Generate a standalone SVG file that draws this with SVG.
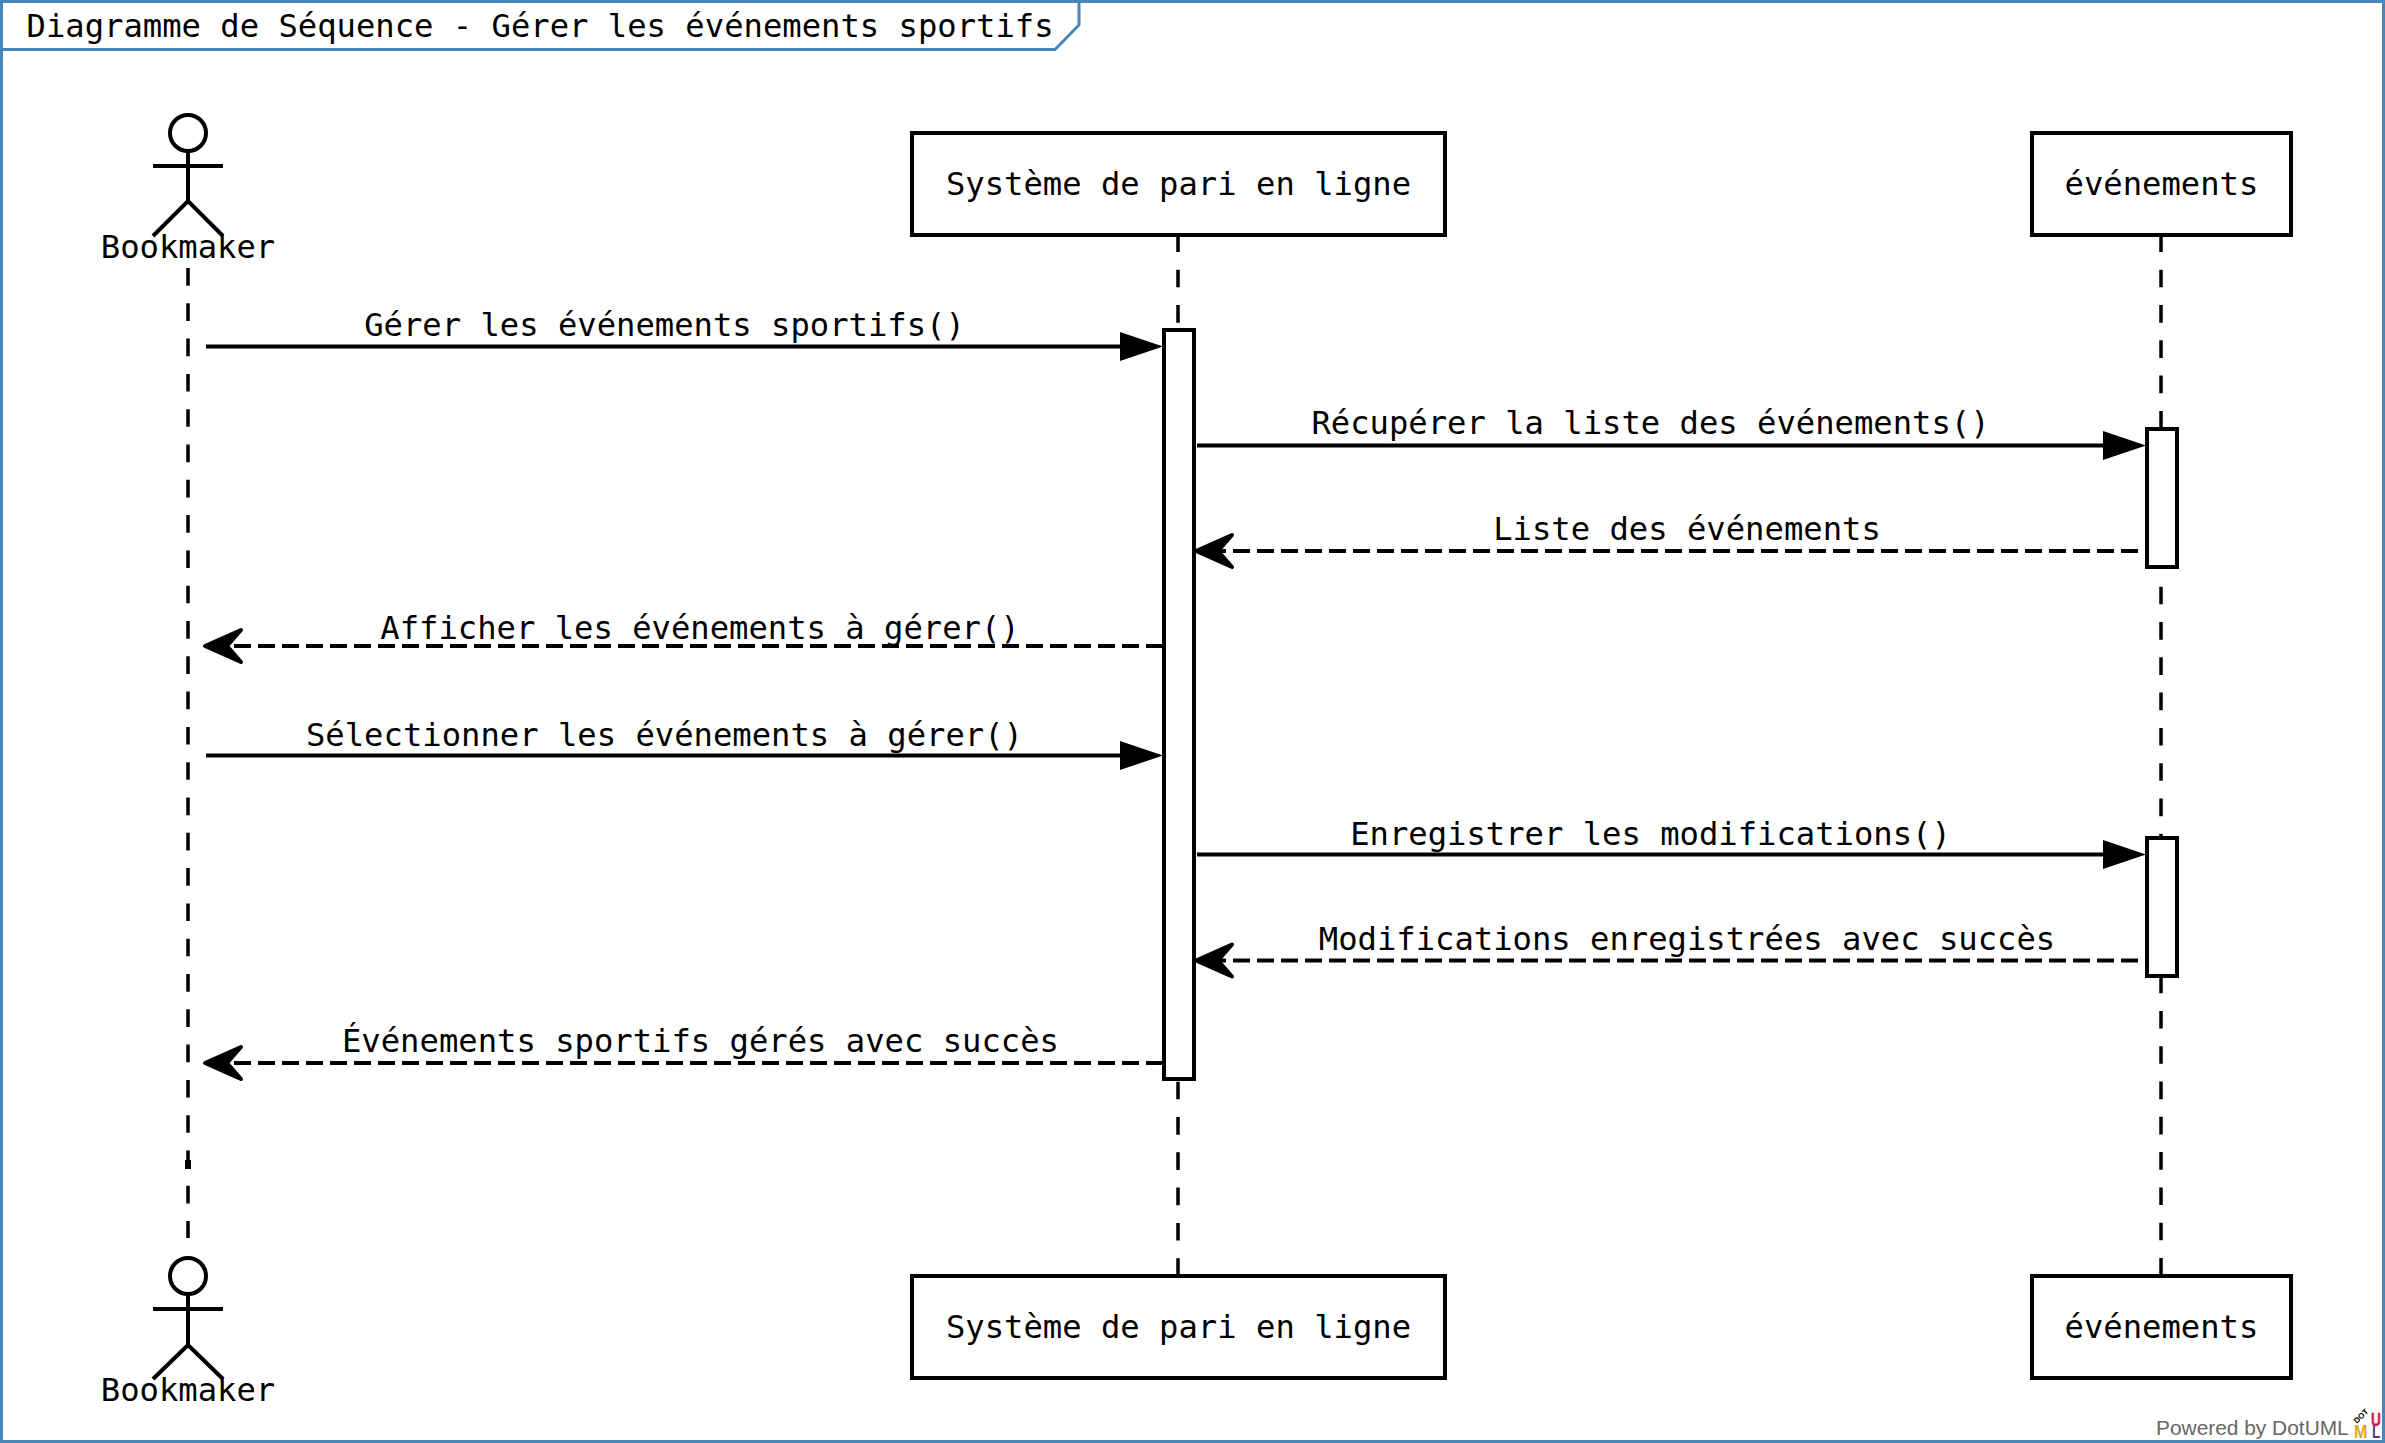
<svg xmlns="http://www.w3.org/2000/svg" width="2385" height="1443" viewBox="0 0 2385 1443">
<style>
text{font-family:"DejaVu Sans Mono","Liberation Mono",monospace;font-size:32.2px;fill:#000}
.m{text-anchor:middle}
.box{fill:#fff;stroke:#000;stroke-width:4}
.act{fill:#fff;stroke:#000;stroke-width:4}
.life{stroke:#000;stroke-width:3.5;stroke-dasharray:17.65 17.65;fill:none}
.call{stroke:#000;stroke-width:4;fill:none}
.ret{stroke:#000;stroke-width:4;stroke-dasharray:17 7;fill:none}
.sol{fill:#000}
.open{fill:#000;stroke:#000;stroke-width:4;stroke-linejoin:round}
.stick{fill:#fff;stroke:#000;stroke-width:4}
text.cr{font-family:"Liberation Sans",Arial,sans-serif;font-size:20.9px;fill:#666}
text.lg{font-family:"Liberation Sans",Arial,sans-serif;font-size:19px;font-weight:700}
</style>
<rect width="2385" height="1443" fill="#fff"/>
<g id="frame">
<rect x="1.500" y="1.500" width="2382" height="1440" fill="none" stroke="#4a86b8" stroke-width="3"/>
<path d="M1.500 49.500H1055L1079 25V1.500" fill="none" stroke="#4a86b8" stroke-width="3"/>
<text x="26.500" y="36.500">Diagramme de Séquence - Gérer les événements sportifs</text>
</g>
<g id="connectors">
<path class="life" d="M188 268V1238"/>
<rect x="185" y="1160" width="6" height="9" fill="#000"/>
<path class="life" d="M1178 234.400V330"/>
<path class="life" d="M1178 1081.700V1276"/>
<path class="life" d="M2161 234.400V430"/>
<path class="life" d="M2161 551.400V838"/>
<path class="life" d="M2161 975.600V1276"/>
<path class="call" d="M206 346.500H1125"/><path class="sol" d="M1163 346.500L1120 332V361Z"/>
<path class="call" d="M1197 445.500H2108"/><path class="sol" d="M2146 445.500L2103 431V460Z"/>
<path class="ret" d="M2138 551H1215"/><path class="open" d="M1196 551L1232 535L1218 551L1232 567Z"/>
<path class="ret" d="M1163 646H225"/><path class="open" d="M205 646L241 630L227 646L241 662Z"/>
<path class="call" d="M206 755.500H1125"/><path class="sol" d="M1163 755.500L1120 741V770Z"/>
<path class="call" d="M1197 854.500H2108"/><path class="sol" d="M2146 854.500L2103 840V869Z"/>
<path class="ret" d="M2138 960.500H1215"/><path class="open" d="M1196 960.500L1232 944.500L1218 960.500L1232 976.500Z"/>
<path class="ret" d="M1163 1063H225"/><path class="open" d="M205 1063L241 1047L227 1063L241 1079Z"/>
</g>
<g id="labels">
<text class="m" x="664.500" y="336">Gérer les événements sportifs()</text>
<text class="m" x="1650.500" y="434">Récupérer la liste des événements()</text>
<text class="m" x="1687" y="540">Liste des événements</text>
<text class="m" x="700" y="638.500">Afficher les événements à gérer()</text>
<text class="m" x="664.500" y="745.500">Sélectionner les événements à gérer()</text>
<text class="m" x="1650.500" y="844.500">Enregistrer les modifications()</text>
<text class="m" x="1687" y="950">Modifications enregistrées avec succès</text>
<text class="m" x="700.500" y="1052">Événements sportifs gérés avec succès</text>
</g>
<g id="activation-system"><rect class="act" x="1164" y="330" width="30" height="749"/></g>
<g id="activation-events-1"><rect class="act" x="2147" y="429" width="30" height="138"/></g>
<g id="activation-events-2"><rect class="act" x="2147" y="838" width="30" height="138"/></g>
<g id="actor-top">
<circle class="stick" cx="188" cy="133" r="18"/>
<path class="call" d="M188 151V201M153 166H223M153 236L188 201L223 236"/>
<text class="m" x="188" y="258">Bookmaker</text>
</g>
<g id="system-top"><rect class="box" x="912" y="133" width="533" height="102"/><text class="m" x="1178.500" y="194.500">Système de pari en ligne</text></g>
<g id="events-top"><rect class="box" x="2032" y="133" width="259" height="102"/><text class="m" x="2161.500" y="194.500">événements</text></g>
<g id="actor-bottom">
<circle class="stick" cx="188" cy="1276" r="18"/>
<path class="call" d="M188 1294V1345M153 1309H223M153 1379L188 1345L223 1379"/>
<text class="m" x="188" y="1401">Bookmaker</text>
</g>
<g id="system-bottom"><rect class="box" x="912" y="1276" width="533" height="102"/><text class="m" x="1178.500" y="1338">Système de pari en ligne</text></g>
<g id="events-bottom"><rect class="box" x="2032" y="1276" width="259" height="102"/><text class="m" x="2161.500" y="1338">événements</text></g>
<g id="credit">
<text class="cr" x="2156" y="1435">Powered by DotUML</text>
<text class="lg" transform="translate(2354 1438) scale(.85 1)" style="fill:#e0a526">M</text>
<text class="lg" transform="translate(2371 1426) scale(.72 1)" style="fill:#d01c5c;stroke:#d01c5c;stroke-width:.5">U</text>
<text class="lg" transform="translate(2372 1438) scale(.72 1)" style="fill:#4c3f91">L</text>
<text class="lg" transform="translate(2357 1424) rotate(-45)" style="font-size:8px">DOT</text>
</g>
</svg>
